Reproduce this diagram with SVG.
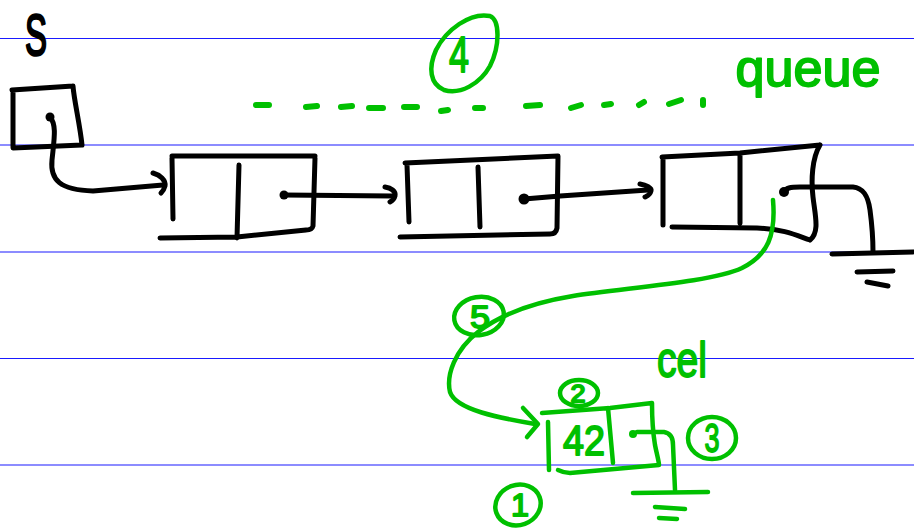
<svg xmlns="http://www.w3.org/2000/svg" width="914" height="531" viewBox="0 0 914 531">
  <style>
    .rule { stroke: #1a1aff; stroke-width: 1.2; }
    .k { fill: none; stroke: #000; stroke-width: 5; stroke-linecap: round; stroke-linejoin: round; }
    .g { fill: none; stroke: #00c000; stroke-width: 4.5; stroke-linecap: round; stroke-linejoin: round; }
    .dash { stroke-width: 6; }
    .dotk { fill: #000; }
    .dotg { fill: #00c000; }
    .tk { font-family: "Liberation Sans", Arial, sans-serif; fill: #000; stroke: #000; stroke-width: 2.5; stroke-linejoin: round; text-anchor: middle; }
    .tg { font-family: "Liberation Sans", Arial, sans-serif; fill: #00c000; stroke: #00c000; stroke-width: 1.8; stroke-linejoin: round; text-anchor: middle; }
  </style>

  <rect width="914" height="531" fill="#fff"/>

  <!-- ruled paper lines -->
  <g id="rules">
    <line class="rule" x1="0" y1="38.5" x2="914" y2="38.5"/>
    <line class="rule" x1="0" y1="145" x2="914" y2="145"/>
    <line class="rule" x1="0" y1="252" x2="914" y2="252"/>
    <line class="rule" x1="0" y1="358.5" x2="914" y2="358.5"/>
    <line class="rule" x1="0" y1="465" x2="914" y2="465"/>
  </g>

  <!-- head pointer s -->
  <g id="head">
    <text class="tk" x="36" y="55" font-size="58" textLength="22" lengthAdjust="spacingAndGlyphs">S</text>
    <path class="k" d="M12,90 L73,86 M13,92 L13,147 M73,86 C74,100 80,125 82,145 M13,148 L82,145"/>
    <circle class="dotk" cx="50" cy="117" r="4.5"/>
  </g>

  <!-- list node 1 -->
  <g id="node1">
    <path class="k" d="M172,156 L315,156 M172,158 L173,219 M239,165 L237,238 M315,158 L313,226 Q312,230 306,230 M160,238 L237,237 L306,230"/>
    <circle class="dotk" cx="284" cy="195" r="4.5"/>
  </g>

  <!-- list node 2 -->
  <g id="node2">
    <path class="k" d="M405,163 L558,156 M407,165 L409,222 M478,167 L480,227 M558,156 L557,228 Q556,234 550,234 M400,237 L550,234"/>
    <circle class="dotk" cx="524" cy="199" r="5.5"/>
  </g>

  <!-- list node 3 (tail) -->
  <g id="node3">
    <path class="k" d="M662,157 L740,153 L820,145 M663,158 L663,225 M740,153 L740,223 M820,145 C812,158 811,180 813,197 C815,215 820,232 810,240 M672,227 L757,228 C785,229 798,236 810,240"/>
    <circle class="dotk" cx="784" cy="192" r="5"/>
    <path class="k" d="M832,254 L913,252 M857,272 L893,271 M867,282 L888,286"/>
  </g>

  <!-- new cell cel -->
  <g id="cel">
    <text class="tg" x="682" y="377" font-size="50" textLength="50" lengthAdjust="spacingAndGlyphs">cel</text>
    <path class="g" d="M542,413 L610,408 L652,403 M548,422 L549,470 M608,408 L613,463 M652,403 C652,420 653,433 655,445 C657,455 659,462 659,465 M558,470 Q564,473 570,473 L659,465"/>
    <text class="tg" x="584" y="455" font-size="42" textLength="42" lengthAdjust="spacingAndGlyphs">42</text>
    <circle class="dotg" cx="633" cy="434" r="4"/>
    <path class="g" d="M633,493 L708,492 M655,507 L685,509 M659,518 L677,519"/>
  </g>

  <!-- pointer connectors -->
  <g id="connectors">
    <path class="k" d="M50,117 C57,125 54,140 52,160 C50,180 60,190 93,191 L163,185"/>
    <path class="k" d="M153,173 C160,175 166,180 165,186 C164,190 162,192 161,193"/>
    <path class="k" d="M284,195 L392,196"/>
    <path class="k" d="M385,187 C391,188 396,191 395,196 C394,200 392,201 390,202"/>
    <path class="k" d="M524,199 L560,196 L648,190"/>
    <path class="k" d="M640,184 C646,185 652,188 651,191 C650,195 647,196 645,197"/>
    <path class="k" d="M784,192 C786,188 790,187 800,187 L853,187 C863,188 868,195 870,210 C872,225 873,240 873,252"/>
    <path class="g" d="M773,200 C776,235 768,255 742,268 C710,283 620,288 573,296 C530,303 500,315 478,332 C455,350 446,375 450,392 C456,410 500,418 535,424"/>
    <path class="g" d="M523,408 L538,424 L527,437"/>
    <path class="g" d="M637,432 L664,432 C670,433 673,437 673,445 L675,490"/>
  </g>

  <!-- step annotations -->
  <g id="annotations">
    <path class="g" d="M490,16 C470,12 446,30 436,50 C428,68 430,84 444,90 C460,95 480,84 490,66 C500,46 500,20 490,16 Z"/>
    <text class="tg" x="459" y="72" font-size="50" textLength="20" lengthAdjust="spacingAndGlyphs">4</text>
    <g id="dashes">
      <path class="g dash" d="M256,105 L269,105 M306,107 L317,106 M341,107 L352,106 M369,108 L383,108 M404,107 L417,107 M441,111 L448,110 M475,108 L483,108 M526,106 L540,105 M571,108 L581,105 M604,105 L611,104 M639,105 L644,102 M669,104 L681,100 M703,100 L703,105"/>
    </g>
    <text class="tg" x="808" y="86" font-size="52" textLength="145" lengthAdjust="spacingAndGlyphs">queue</text>

    <ellipse class="g" cx="479" cy="316" rx="25" ry="19" transform="rotate(-10 479 316)"/>
    <text class="tg" x="480" y="328" font-size="32" textLength="20" lengthAdjust="spacingAndGlyphs">5</text>

    <ellipse class="g" cx="579" cy="393" rx="19" ry="13"/>
    <text class="tg" x="578" y="402" font-size="24" textLength="15" lengthAdjust="spacingAndGlyphs">2</text>

    <ellipse class="g" cx="712" cy="438" rx="24" ry="21"/>
    <text class="tg" x="712" y="452" font-size="40" textLength="15" lengthAdjust="spacingAndGlyphs">3</text>

    <ellipse class="g" cx="518" cy="505" rx="23" ry="20" transform="rotate(-20 518 505)"/>
    <text class="tg" x="520" y="516" font-size="32" textLength="18" lengthAdjust="spacingAndGlyphs">1</text>
  </g>
</svg>
